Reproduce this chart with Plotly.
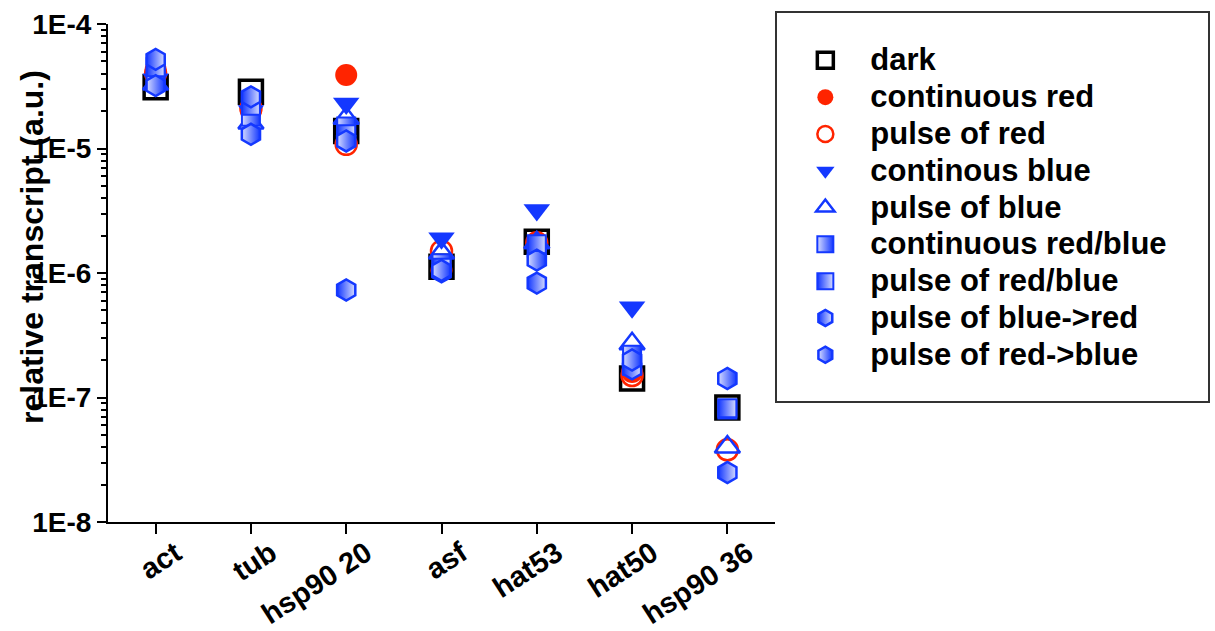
import plotly.graph_objects as go

categories = ["act", "tub", "hsp90 20", "asf", "hat53", "hat50", "hsp90 36"]

dark = [3.1e-5, 2.85e-5, 1.38e-5, 1.12e-6, 1.78e-6, 1.42e-7, 8.3e-8]
cont_red = [4.3e-5, 2.0e-5, 3.9e-5, 1.05e-6, 1.7e-6, 1.6e-7, None]
pulse_red = [4.0e-5, 2.1e-5, 1.08e-5, 1.5e-6, 1.75e-6, 1.5e-7, 3.8e-8]
cont_blue = [3.6e-5, 2.0e-5, 2.3e-5, 1.9e-6, 3.2e-6, 5.3e-7, None]
pulse_blue = [3.3e-5, 1.6e-5, 1.75e-5, 1.45e-6, 1.75e-6, 2.7e-7, 4.0e-8]
cont_rb = [3.8e-5, 1.8e-5, 1.5e-5, 1.2e-6, 1.6e-6, 2.2e-7, 8.0e-8]
pulse_rb = [4.5e-5, 2.2e-5, 1.3e-5, 1.1e-6, 1.7e-6, 1.8e-7, 8.2e-8]
blue_red = [5.2e-5, 2.6e-5, 7.3e-7, 1.02e-6, 8.3e-7, 1.7e-7, 2.5e-8]
red_blue = [3.2e-5, 1.3e-5, 1.15e-5, 1.05e-6, 1.27e-6, 2.0e-7, 1.42e-7]

ytickvals = [1e-8, 1e-7, 1e-6, 1e-5, 1e-4]
yticktext = ["1E-8", "1E-7", "1E-6", "1E-5", "1E-4"]

RED = "#ff2400"
BLUE = "#1438ff"
PALE = "#d6dcff"
FONT = "Liberation Sans, Arial, sans-serif"

series = [
    ("dark", dark, dict(symbol="square-open", size=23, color="black", line=dict(width=3.5, color="black"))),
    ("continuous red", cont_red, dict(symbol="circle", size=22, color=RED, line=dict(width=0))),
    ("pulse of red", pulse_red, dict(symbol="circle-open", size=21, color=RED, line=dict(width=2.5, color=RED))),
    ("continous blue", cont_blue, dict(symbol="triangle-down", size=23, color=BLUE, line=dict(width=0))),
    ("pulse of blue", pulse_blue, dict(symbol="triangle-up-open", size=22, color=BLUE, line=dict(width=2.5, color=BLUE))),
    ("continuous red/blue", cont_rb, dict(symbol="square", size=18, color=PALE,
                                           gradient=dict(type="horizontal", color=BLUE),
                                           line=dict(width=2, color=BLUE))),
    ("pulse of red/blue", pulse_rb, dict(symbol="square", size=18, color=BLUE,
                                         gradient=dict(type="horizontal", color=PALE),
                                         line=dict(width=2, color=BLUE))),
    ("pulse of blue->red", blue_red, dict(symbol="hexagon", size=21, color=BLUE,
                                          gradient=dict(type="horizontal", color=PALE),
                                          line=dict(width=2.5, color=BLUE))),
    ("pulse of red->blue", red_blue, dict(symbol="hexagon", size=21, color=PALE,
                                          gradient=dict(type="horizontal", color=BLUE),
                                          line=dict(width=2.5, color=BLUE))),
]

fig = go.Figure()
for name, vals, marker in series:
    fig.add_trace(go.Scatter(
        x=categories, y=vals, mode="markers", marker=marker,
        name="<span style='font-size:31px'>" + name.replace(">", "&gt;") + "</span>",
        cliponaxis=False,
    ))

fig.update_layout(
    width=1215, height=631,
    margin=dict(l=108, r=440, t=24, b=109, autoexpand=False),
    paper_bgcolor="white", plot_bgcolor="white",
    font=dict(family=FONT, color="black", weight="bold"),
    showlegend=True,
    legend=dict(
        x=1.008, xanchor="left", y=0.974, yanchor="top",
        font=dict(family=FONT, size=26, color="black", weight="bold"),
        itemsizing="trace", itemwidth=80,
        bgcolor="rgba(0,0,0,0)", borderwidth=0,
    ),
    xaxis=dict(
        type="category", range=[-0.5, 6.5], automargin=False,
        showline=True, linewidth=2, linecolor="black",
        ticks="outside", ticklen=10, tickwidth=2, tickcolor="black",
        tickangle=-33, tickfont=dict(family=FONT, size=29, weight="bold"),
        ticklabelshift=20, ticklabelstandoff=-9,
        showgrid=False, zeroline=False,
    ),
    yaxis=dict(
        type="log", range=[-8, -4], automargin=False,
        showline=True, linewidth=2, linecolor="black",
        ticks="outside", ticklen=9, tickwidth=2, tickcolor="black",
        tickvals=ytickvals, ticktext=yticktext,
        tickfont=dict(family=FONT, size=28, weight="bold"),
        minor=dict(ticks="outside", ticklen=5, tickwidth=1.5, tickcolor="black", dtick="D1", showgrid=False),
        showgrid=False, zeroline=False,
    ),
    shapes=[dict(type="rect", xref="paper", yref="paper",
                 x0=(776 - 108) / 667, x1=(1209 - 108) / 667,
                 y0=(522 - 402) / 498, y1=(522 - 12) / 498,
                 line=dict(color="#333333", width=2), fillcolor="rgba(0,0,0,0)")],
    annotations=[dict(text="relative transcript (a.u.)", xref="paper", yref="paper",
                      x=(32 - 108) / 667, y=(522 - 247) / 498, xanchor="center", yanchor="middle",
                      textangle=-90, showarrow=False,
                      font=dict(family=FONT, size=32, color="black", weight="bold"))],
)

fig.write_html("out.html")
